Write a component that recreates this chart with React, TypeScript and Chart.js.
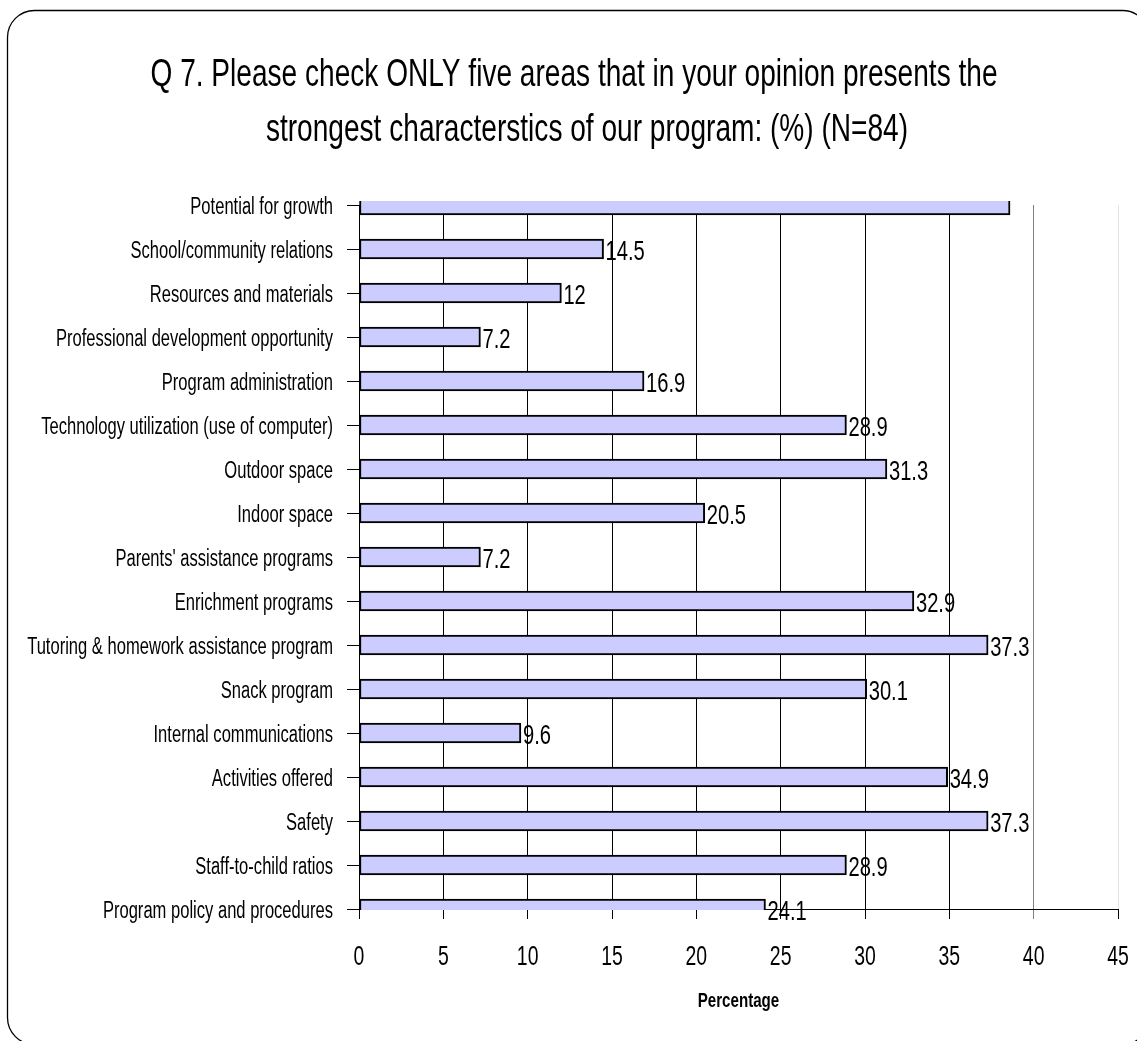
import React, { useEffect, useRef } from "react";
import { Chart, registerables } from "chart.js";

Chart.register(...registerables);

const titleLines = [
  "Q 7. Please check ONLY five areas that in your opinion presents the",
  "strongest characterstics of our program: (%) (N=84)",
];

const categories = [
  "Potential for growth",
  "School/community relations",
  "Resources and materials",
  "Professional development opportunity",
  "Program administration",
  "Technology utilization (use of computer)",
  "Outdoor space",
  "Indoor space",
  "Parents' assistance programs",
  "Enrichment programs",
  "Tutoring & homework assistance program",
  "Snack program",
  "Internal communications",
  "Activities offered",
  "Safety",
  "Staff-to-child ratios",
  "Program policy and procedures",
];

const percentages = [38.6, 14.5, 12, 7.2, 16.9, 28.9, 31.3, 20.5, 7.2, 32.9, 37.3, 30.1, 9.6, 34.9, 37.3, 28.9, 24.1];

const valueLabels = ["", "14.5", "12", "7.2", "16.9", "28.9", "31.3", "20.5", "7.2", "32.9", "37.3", "30.1", "9.6", "34.9", "37.3", "28.9", "24.1"];

const xTicks = [0, 5, 10, 15, 20, 25, 30, 35, 40, 45];

const xAxisTitle = "Percentage";

const FONT = "'Liberation Sans', Arial, sans-serif";
const SX = 0.72;

function drawText(
  ctx: CanvasRenderingContext2D,
  text: string,
  x: number,
  y: number,
  size: number,
  align: CanvasTextAlign,
  bold = false
) {
  ctx.save();
  ctx.translate(x, y);
  ctx.scale(SX, 1);
  ctx.font = `${bold ? "bold " : ""}${size}px ${FONT}`;
  ctx.fillStyle = "#000";
  ctx.textAlign = align;
  ctx.textBaseline = "alphabetic";
  ctx.fillText(text, 0, 0);
  ctx.restore();
}

const framePlugin = {
  id: "frame",
  beforeDraw(chart: any) {
    const ctx = chart.ctx;
    ctx.save();
    ctx.fillStyle = "#ffffff";
    ctx.fillRect(0, 0, chart.width, chart.height);
    ctx.beginPath();
    (ctx as any).roundRect(7.5, 10.5, 1142, 1034, 27);
    ctx.strokeStyle = "#000";
    ctx.lineWidth = 1.3;
    ctx.stroke();
    ctx.restore();
  },
};

const textPlugin = {
  id: "texts",
  afterDraw(chart: any) {
    const ctx = chart.ctx as CanvasRenderingContext2D;
    const area = chart.chartArea;
    const xs = chart.scales.x;
    const ys = chart.scales.y;
    // title
    drawText(ctx, titleLines[0], 574, 86, 39, "center");
    drawText(ctx, titleLines[1], 587, 141, 39, "center");
    // category labels
    categories.forEach((c, i) => {
      const y = ys.getPixelForValue(i);
      drawText(ctx, c, 333, y + 8.5, 23, "right");
    });
    // x tick labels
    xTicks.forEach((v) => {
      const x = xs.getPixelForValue(v);
      drawText(ctx, String(v), x, area.bottom + 56, 27, "center");
    });
    // value labels
    const meta = chart.getDatasetMeta(0);
    meta.data.forEach((bar: any, i: number) => {
      const t = valueLabels[i];
      if (!t) return;
      drawText(ctx, t, bar.x + 2, bar.y + 10.5, 28, "left");
    });
    // axis title
    drawText(ctx, xAxisTitle, (area.left + area.right) / 2, area.bottom + 98, 21, "center", true);
  },
};

export default function App() {
  const ref = useRef<HTMLCanvasElement>(null);
  useEffect(() => {
    if (!ref.current) return;
    const chart = new Chart(ref.current, {
      type: "bar",
      data: {
        labels: categories,
        datasets: [
          {
            data: percentages,
            backgroundColor: "#CCCCFF",
            borderColor: "#000000",
            borderWidth: 2,
            borderSkipped: false,
            barThickness: 20,
            clip: { left: 1, right: 1, top: 4, bottom: 1 } as any,
          },
        ],
      },
      plugins: [framePlugin, textPlugin],
      options: {
        indexAxis: "y",
        responsive: false,
        animation: false,
        devicePixelRatio: 1,
        layout: { padding: { left: 0, right: 19, top: 205, bottom: 0 } },
        plugins: {
          legend: { display: false },
          tooltip: { enabled: false },
          title: { display: false },
        },
        scales: {
          x: {
            type: "linear",
            min: 0,
            max: 45,
            afterBuildTicks: (scale: any) => {
              scale.ticks = xTicks.map((v) => ({ value: v }));
            },
            afterFit: (scale: any) => {
              scale.height = 132;
            },
            ticks: { display: false },
            grid: {
              color: (c: any) =>
                c.tick && c.tick.value === 40 ? "#808080" : c.tick && c.tick.value === 45 ? "#e2e2e2" : "#000",
              tickColor: (c: any) => (c.tick && c.tick.value === 40 ? "#808080" : "#000"),
              tickLength: 10,
              lineWidth: 1,
            },
            border: { display: true, color: "#000", width: 1 },
          },
          y: {
            type: "category",
            offset: false,
            afterFit: (scale: any) => {
              scale.width = 359;
            },
            ticks: { display: false, autoSkip: false },
            grid: {
              drawOnChartArea: false,
              drawTicks: true,
              tickLength: 12,
              color: "#000",
              offset: false,
            },
            border: { display: true, color: "#000", width: 1 },
          },
        },
      } as any,
    });
    return () => chart.destroy();
  }, []);
  return (
    <div style={{ position: "absolute", left: 0, top: 0, width: 1137, height: 1041 }}>
      <canvas ref={ref} width={1137} height={1041} style={{ width: 1137, height: 1041, display: "block" }} />
    </div>
  );
}
